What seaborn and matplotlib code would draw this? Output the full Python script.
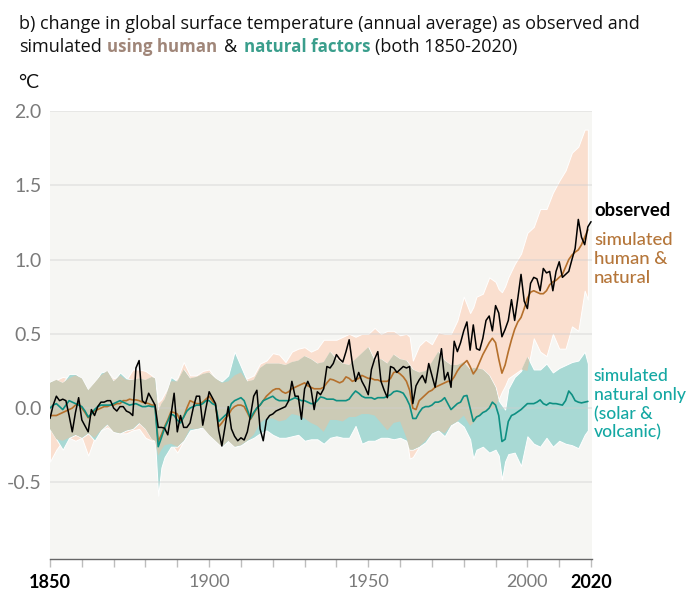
import numpy as np
import pandas as pd
import matplotlib
matplotlib.use('Agg')
import matplotlib.pyplot as plt
import seaborn as sns

years_obs = list(range(1850, 2021))
years_sim = list(range(1850, 2020))

observed = [
    -.07, .02, .08, .05, .06, .05, -.05, -.16, -.03, .07,
    -.08, -.12, -.16, -.01, -.05, .01, .04, .04, .05, .05,
    .0, -.02, .01, .01, -.02, -.03, -.05, .27, .32, .05,
    .03, .10, .06, .02, -.13, -.13, -.135, -.18, -.05, .10,
    -.16, -.05, -.13, -.13, -.10, .0, .08, .08, -.115, .0,
    .11, .07, .03, -.15, -.255, -.125, .01, -.14, -.19, -.22,
    -.20, -.215, -.16, -.05, .08, .12, -.14, -.22, -.08, -.05,
    -.04, -.02, -.01, .0, .01, .05, .18, .08, .08, -.075,
    .13, .18, .13, -.01, .11, .09, .13, .28, .27, .30,
    .36, .33, .31, .38, .46, .30, .18, .24, .18, .14,
    .09, .26, .33, .38, .18, .12, .07, .28, .27, .24,
    .26, .28, .27, .28, .03, .15, .19, .22, .17, .30,
    .22, .14, .27, .40, .19, .24, .14, .45, .38, .44,
    .52, .58, .39, .56, .40, .39, .47, .59, .62, .52,
    .69, .64, .48, .53, .59, .73, .59, .74, .90, .72,
    .67, .84, .88, .87, .79, .94, .91, .92, .79, .92,
    .985, .88, .90, .92, 1.0, 1.075, 1.27, 1.15, 1.10, 1.22,
    1.255,
]

sim_human = [
    -.05, -.05, -.05, -.04, -.03, -.02, -.01, .0, .02, .03,
    .0, -.03, -.065, -.04, -.02, -.01, .0, .01, .01, .02,
    .02, .03, .03, .05, .05, .06, .055, .055, .05, .04,
    .035, .03, .02, .02, -.225, -.18, -.125, -.08, -.025, -.03,
    -.04, -.09, -.06, .0, .05, .04, .03, .03, .04, .06,
    .08, .05, .02, -.125, -.10, -.07, -.05, -.01, .01, .02,
    .02, .01, -.03, -.075, -.04, .0, .02, .05, .08, .10,
    .12, .13, .13, .11, .10, .11, .13, .14, .15, .16,
    .17, .15, .14, .13, .13, .13, .14, .17, .195, .19,
    .18, .17, .18, .21, .20, .18, .19, .20, .22, .21,
    .20, .20, .19, .19, .18, .18, .18, .20, .24, .245,
    .23, .21, .18, .12, .0, -.01, .05, .07, .09, .11,
    .12, .14, .15, .16, .17, .18, .18, .21, .25, .28,
    .30, .32, .28, .23, .26, .31, .36, .40, .44, .47,
    .44, .33, .235, .29, .38, .46, .53, .58, .61, .67,
    .74, .78, .79, .78, .77, .77, .79, .83, .85, .86,
    .88, .90, .95, 1.0, 1.03, 1.05, 1.065, 1.10, 1.15, 1.20,
]

sim_natural = [
    .0, .02, .03, .01, -.01, .02, .05, .04, .03, .02,
    .01, -.02, -.06, -.04, -.01, .01, .02, .02, .02, .02,
    .03, .04, .05, .04, .03, .02, .025, .03, .02, .01,
    .01, .015, .01, .01, -.26, -.20, -.135, -.09, -.04, -.05,
    -.08, -.10, -.06, -.02, .0, .01, .02, .02, .03, .05,
    .05, .03, .02, -.09, -.07, -.05, -.03, .03, .05, .06,
    .07, .05, -.01, -.07, -.03, .0, .02, .05, .06, .07,
    .08, .06, .05, .05, .05, .05, .06, .07, .06, .05,
    .05, .04, .03, .03, .05, .075, .07, .06, .06, .06,
    .05, .05, .05, .05, .06, .09, .115, .10, .08, .07,
    .07, .07, .06, .07, .07, .07, .08, .09, .11, .115,
    .11, .10, .065, .02, -.07, -.07, -.03, .0, .01, .01,
    .02, .04, .04, .05, .07, .03, -.01, .01, .03, .04,
    .08, .085, .0, -.09, -.06, -.05, -.03, -.02, .0, .04,
    .02, -.05, -.225, -.21, -.09, -.05, -.04, -.025, -.01, .01,
    .03, .03, .03, .04, .055, .03, .02, .035, .03, .03,
    .025, .02, .05, .115, .09, .05, .04, .035, .04, .045,
]

# bands are read at roughly two year steps, plus the volcanic dips
band_years = [
    1850, 1852, 1854, 1856, 1858, 1860, 1862, 1864, 1866, 1868, 1870, 1872, 1874, 1876, 1878, 1880, 1882,
    1883, 1884, 1885, 1886,
    1888, 1890, 1892, 1894, 1896, 1898, 1900, 1902, 1904, 1906, 1908, 1910, 1912, 1914, 1916, 1918, 1920, 1922, 1924,
    1926, 1928, 1930, 1932, 1934, 1936, 1938, 1940, 1942, 1944, 1946, 1948, 1950, 1952, 1954, 1956, 1958, 1960, 1962,
    1963, 1964,
    1966, 1968, 1970, 1972, 1974, 1976, 1978, 1980, 1982,
    1983, 1984,
    1986, 1988, 1990,
    1991, 1992, 1993, 1994,
    1996, 1998, 2000, 2002, 2004, 2006, 2008, 2010, 2012, 2014, 2016, 2018,
    2019,
]

human_upper = [
    .17, .19, .21, .20, .22, .20, .12, .18, .22, .25, .20, .22, .19, .26, .26, .25, .22,
    .20, .04, .06, .10,
    .18, .20, .31, .22, .22, .25, .26, .20, .17, .18, .22, .24, .20, .22, .30, .32, .37, .36, .31,
    .38, .40, .41, .38, .40, .46, .46, .46, .48, .50, .48, .50, .50, .54, .50, .52, .52, .49, .50,
    .48, .32,
    .42, .46, .43, .51, .50, .50, .59, .75, .64,
    .68, .75,
    .77, .88, .85,
    .80, .78, .82, .88,
    .97, 1.04, 1.18, 1.22, 1.34, 1.34, 1.45, 1.53, 1.60, 1.72, 1.76, 1.875,
    1.875,
]

human_lower = [
    -.36, -.28, -.22, -.20, -.22, -.20, -.32, -.20, -.15, -.13, -.16, -.17, -.17, -.15, -.14, -.20, -.22,
    -.22, -.32, -.28, -.25,
    -.24, -.30, -.22, -.14, -.14, -.13, -.18, -.22, -.26, -.22, -.26, -.25, -.22, -.18, -.10, -.07, -.07, -.09, -.08,
    -.04, -.05, -.07, -.10, -.12, -.16, -.08, -.08, -.09, -.06, -.06, -.04, -.04, -.05, -.10, -.15, -.10, -.09, -.20,
    -.34, -.33,
    -.26, -.22, -.17, -.15, -.17, -.12, -.09, -.05, -.12,
    -.10, -.08,
    -.03, -.01, .01,
    .06, .11, .15, .20,
    .23, .26, .25, .47, .38, .35, .50, .40, .40, .55, .52, .79,
    .73,
]

natural_upper = [
    .18, .19, .17, .23, .23, .20, .12, .17, .24, .25, .18, .24, .20, .19, .20, .19, .21,
    .20, -.02, .03, .06,
    .21, .18, .26, .20, .21, .23, .24, .20, .18, .22, .38, .28, .18, .19, .27, .30, .30, .30, .29,
    .31, .32, .35, .33, .30, .31, .38, .33, .30, .29, .33, .37, .41, .32, .33, .30, .36, .33, .32,
    .29, .26,
    .24, .25, .31, .38, .32, .29, .29, .31, .26,
    .27, .27,
    .26, .22, .14,
    .05, .02, -.01, .13,
    .21, .25, .345, .26, .26, .30, .24, .27, .29, .31, .32, .38,
    .30,
]

natural_lower = [
    -.14, -.21, -.28, -.20, -.18, -.20, -.17, -.22, -.15, -.11, -.16, -.17, -.15, -.14, -.10, -.14, -.21,
    -.22, -.59, -.40, -.33,
    -.26, -.26, -.22, -.15, -.14, -.13, -.18, -.22, -.26, -.22, -.26, -.25, -.22, -.20, -.17, -.15, -.18, -.20, -.20,
    -.19, -.18, -.22, -.21, -.21, -.24, -.20, -.19, -.20, -.20, -.12, -.24, -.22, -.22, -.20, -.20, -.21, -.20, -.22,
    -.28, -.28,
    -.26, -.23, -.17, -.15, -.19, -.115, -.09, -.125, -.21,
    -.34, -.28,
    -.26, -.30, -.28,
    -.32, -.48, -.36, -.31,
    -.30, -.39, -.19, -.24, -.26, -.20, -.26, -.22, -.24, -.25, -.27, -.18,
    -.15,
]

sns.set_theme(style='white')
plt.rcParams['font.family'] = ['Lato', 'DejaVu Sans']

df_obs = pd.DataFrame({'year': years_obs, 'temp': observed})
df_sim = pd.DataFrame({'year': years_sim, 'human': sim_human, 'natural': sim_natural})
bands = pd.DataFrame({'year': band_years, 'hu': human_upper, 'hl': human_lower,
                      'nu': natural_upper, 'nl': natural_lower})

fig = plt.figure(figsize=(6.86, 6.0), dpi=100)
ax = fig.add_axes([50 / 686, 41 / 600, 542 / 686, 448 / 600])
ax.set_facecolor('#F6F6F3')

# the two ranges, then the part they share on top
ax.fill_between(bands['year'], bands['hl'], bands['hu'], color='#FADFCF', edgecolor='white', linewidth=.7)
ax.fill_between(bands['year'], bands['nl'], bands['nu'], color='#A8D9D4', edgecolor='white', linewidth=.7)
over_lo = bands[['hl', 'nl']].max(axis=1)
over_hi = bands[['hu', 'nu']].min(axis=1)
ax.fill_between(bands['year'], over_lo, over_hi, where=over_hi > over_lo, interpolate=True,
                color='#CCCBB6', linewidth=0)

sns.lineplot(data=df_sim, x='year', y='human', color='#B5702C', linewidth=1.2, ax=ax)
sns.lineplot(data=df_sim, x='year', y='natural', color='#0E8F82', linewidth=1.2, ax=ax)
sns.lineplot(data=df_obs, x='year', y='temp', color='black', linewidth=1.1, ax=ax)

ax.set_xlim(1850, 2020.3)
ax.set_ylim(-1.016, 2.0)
ax.set_xlabel('')
ax.set_ylabel('')

ax.set_yticks([-.5, 0, .5, 1, 1.5, 2])
ax.set_yticklabels(['-0.5', '0.0', '0.5', '1.0', '1.5', '2.0'], fontsize=14, color='#7A7A7A')
ax.tick_params(axis='y', length=0, pad=6)
ax.set_axisbelow('line')
ax.yaxis.grid(True, color='#CFCFCF', alpha=.45, linewidth=1.2)
ax.xaxis.grid(False)

x_ticks = list(range(1850, 2021, 10))
x_labels = [str(y) if y in (1850, 1900, 1950, 2000, 2020) else '' for y in x_ticks]
ax.set_xticks(x_ticks)
ax.set_xticklabels(x_labels, fontsize=13, color='#7A7A7A')
ax.tick_params(axis='x', bottom=True, length=6, width=1, color='#BDBDBD', pad=5)
for tick, lab, y in zip(ax.xaxis.get_major_ticks(), ax.get_xticklabels(), x_ticks):
    if y in (1850, 2020):
        tick.tick1line.set_color('#666666')
        lab.set_color('black')
        lab.set_fontweight('bold')

for s in ['top', 'left', 'right']:
    ax.spines[s].set_visible(False)
ax.spines['bottom'].set_color('#666666')
ax.spines['bottom'].set_linewidth(1)


def px_text(x, y, s, **kw):
    fig.text(x / 686, 1 - y / 600, s, va='center', **kw)


title_font = ['Open Sans', 'DejaVu Sans']
px_text(19, 24, 'b) change in global surface temperature (annual average) as observed and',
        fontsize=13, color='#111111', family=title_font)
px_text(19, 47, 'simulated', fontsize=13, color='#111111', family=title_font)
px_text(107, 47, 'using human', fontsize=12.2, color='#A08679', fontweight='bold', family=title_font)
px_text(224, 47, '&', fontsize=13, color='#111111', family=title_font)
px_text(244, 47, 'natural factors', fontsize=12.2, color='#3A9E8C', fontweight='bold', family=title_font)
px_text(375, 47, '(both 1850-2020)', fontsize=13, color='#111111', family=title_font)

px_text(18, 83, '°C', fontsize=14, color='#111111')

px_text(594, 211, 'observed', fontsize=13.3, color='black', fontweight='bold')
for y, s in zip([240, 259, 278], ['simulated', 'human &', 'natural']):
    px_text(594, y, s, fontsize=13.3, color='#B5763A', fontweight='medium')
for y, s in zip([376, 395, 414, 432], ['simulated', 'natural only', '(solar &', 'volcanic)']):
    px_text(594, y, s, fontsize=12.6, color='#14A8A3', fontweight='medium')

fig.savefig('out.png', dpi=100, facecolor='white')
